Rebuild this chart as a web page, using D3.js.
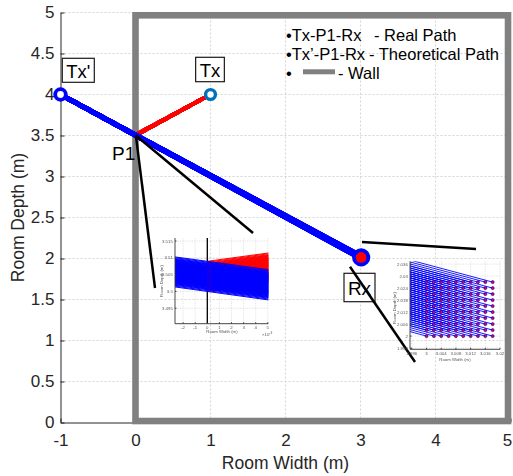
<!DOCTYPE html>
<html>
<head>
<meta charset="utf-8">
<script src="https://cdn.jsdelivr.net/npm/d3@7"></script>
<style>
  body { margin: 0; background: #fff; }
  svg { display: block; }
  text { font-family: "Liberation Sans", Arial, Helvetica, sans-serif; }
</style>
</head>
<body>
<svg id="chart" width="513" height="476"></svg>
<script>
// ---------- data ----------
const xTicks = [-1, 0, 1, 2, 3, 4, 5];
const yTicks = [0, 0.5, 1, 1.5, 2, 2.5, 3, 3.5, 4, 4.5, 5];
const yTickLabels = ["0", "0.5", "1", "1.5", "2", "2.5", "3", "3.5", "4", "4.5", "5"];

const txPoint = [1, 4];        // transmitter
const txImage = [-1, 4];       // mirrored transmitter Tx'
const rxGridX = [3.000, 3.002, 3.004, 3.006, 3.008, 3.010, 3.012, 3.014, 3.016, 3.018];
const rxGridY = [2.000, 2.003, 2.006, 2.009, 2.012, 2.015, 2.018, 2.021, 2.024, 2.027];
const wallX = [0, 4.967];
const wallY = [0.018, 4.966];

// pointer lines from the reflection point and the receiver to the zoomed views
const pointerLines = [
  [[0.005, 3.5], [0.26, 1.64]],
  [[0.005, 3.5], [1.567, 2.311]],
  [[3.02, 2.201], [4.54, 2.116]],
  [[2.86, 1.90], [3.727, 0.738]]
];

// zoom near P1
const zoomP1XTicks = [-0.002, -0.001, 0, 0.001, 0.002, 0.003, 0.004, 0.005];
const zoomP1XLabels = ["-2", "-1", "0", "1", "2", "3", "4", "5"];
const zoomP1YTicks = [3.495, 3.5, 3.505, 3.51, 3.515];
const zoomP1YLabels = ["3.495", "3.5", "3.505", "3.51", "3.515"];
// zoom near Rx
const zoomRxXTicks = [2.996, 3, 3.004, 3.008, 3.012, 3.016, 3.02];
const zoomRxXLabels = ["2.996", "3", "3.004", "3.008", "3.012", "3.016", "3.02"];
const zoomRxYTicks = [1.994, 2, 2.006, 2.012, 2.018, 2.024, 2.03, 2.036];
const zoomRxYLabels = ["1.994", "2", "2.006", "2.012", "2.018", "2.024", "2.03", "2.036"];

// ---------- derived geometry ----------
const rxPoints = rxGridX.flatMap(gx => rxGridY.map(gy => ({ x: gx, y: gy })));
// reflection point on the wall x = 0 for every receiver position
rxPoints.forEach(p => {
  p.p1y = txImage[1] + (p.y - txImage[1]) * (0 - txImage[0]) / (p.x - txImage[0]);
});
const rxCenter = [d3.mean(rxGridX), d3.mean(rxGridY)];

// ---------- layout ----------
const svg = d3.select("#chart");
const FONT = "\"Liberation Sans\", Arial, Helvetica, sans-serif";
const x = d3.scaleLinear().domain([-1, 5]).range([60.5, 510.5]);
const y = d3.scaleLinear().domain([0, 5]).range([422.5, 12.5]);
const ink = "#262626";

const defs = svg.append("defs");
defs.append("filter").attr("id", "soft")
  .attr("x", "-5%").attr("y", "-5%").attr("width", "110%").attr("height", "110%")
  .append("feGaussianBlur").attr("stdDeviation", 0.35);

// grid
const grid = svg.append("g").attr("stroke", "#d4d4d4").attr("stroke-width", 1)
  .attr("stroke-dasharray", "2,2");
grid.selectAll("line.v").data(xTicks.slice(1)).join("line")
  .attr("x1", d => x(d)).attr("x2", d => x(d)).attr("y1", y(0)).attr("y2", y(5));
grid.selectAll("line.h").data(yTicks.slice(1)).join("line")
  .attr("x1", x(-1)).attr("x2", x(5)).attr("y1", d => y(d)).attr("y2", d => y(d));

// axes
const gxAxis = svg.append("g").attr("transform", `translate(0,${y(0)})`)
  .call(d3.axisBottom(x).tickValues(xTicks).tickSize(-4).tickSizeOuter(0)
    .tickPadding(11.5).tickFormat(d => String(d)));
const gyAxis = svg.append("g").attr("transform", `translate(${x(-1)},0)`)
  .call(d3.axisLeft(y).tickValues(yTicks).tickSize(-4).tickSizeOuter(0)
    .tickPadding(6).tickFormat((d, i) => yTickLabels[i]));
[gxAxis, gyAxis].forEach(g => {
  g.select(".domain").attr("stroke", ink);
  g.selectAll(".tick line").attr("stroke", ink);
  g.selectAll(".tick text").attr("fill", ink).attr("font-size", 17).attr("font-family", FONT);
});
// keep the last x label inside the page edge
gxAxis.selectAll(".tick text").filter(d => d === xTicks[xTicks.length - 1]).attr("dx", -3.5);

svg.append("text").attr("x", 285.5).attr("y", 468.5).attr("text-anchor", "middle")
  .attr("font-size", 17.5).attr("fill", ink).text("Room Width (m)");
svg.append("text").attr("transform", `translate(24,217.5) rotate(-90)`)
  .attr("text-anchor", "middle").attr("font-size", 17.5).attr("fill", ink).text("Room Depth (m)");

// wall
svg.append("rect")
  .attr("x", x(wallX[0])).attr("y", y(wallY[1]))
  .attr("width", x(wallX[1]) - x(wallX[0])).attr("height", y(wallY[0]) - y(wallY[1]))
  .attr("fill", "none").attr("stroke", "#808080").attr("stroke-width", 6.6);

// real path Tx -> P1 (red) and theoretical path Tx' -> P1 -> Rx (blue)
svg.append("g").selectAll("line").data(rxPoints).join("line")
  .attr("x1", x(txPoint[0])).attr("y1", y(txPoint[1]))
  .attr("x2", x(0)).attr("y2", d => y(d.p1y))
  .attr("stroke", "#ff0000").attr("stroke-width", 3.6);
svg.append("g").selectAll("line").data(rxPoints).join("line")
  .attr("x1", x(txImage[0])).attr("y1", y(txImage[1]))
  .attr("x2", d => x(d.x)).attr("y2", d => y(d.y))
  .attr("stroke", "#0000ff").attr("stroke-width", 4.6);

// markers
svg.append("circle").attr("cx", x(txImage[0])).attr("cy", y(txImage[1])).attr("r", 5.3)
  .attr("fill", "#fff").attr("stroke", "#0000ff").attr("stroke-width", 3.8);
svg.append("circle").attr("cx", x(txPoint[0])).attr("cy", y(txPoint[1])).attr("r", 4.9)
  .attr("fill", "#fff").attr("stroke", "#0072bd").attr("stroke-width", 3.4);
svg.append("circle").attr("cx", x(rxCenter[0])).attr("cy", y(rxCenter[1])).attr("r", 7.2)
  .attr("fill", "#ff0000").attr("stroke", "#0000ff").attr("stroke-width", 3.8);

// boxed labels
function boxLabel(cx, cy, w, h, txt, size, baseShift) {
  svg.append("rect").attr("x", cx - w / 2).attr("y", cy - h / 2).attr("width", w).attr("height", h)
    .attr("fill", "#fff").attr("stroke", "#1a1a1a").attr("stroke-width", 1.2);
  svg.append("text").attr("x", cx).attr("y", cy + baseShift).attr("text-anchor", "middle")
    .attr("font-size", size).attr("fill", "#000").text(txt);
}
boxLabel(78.3, 70.3, 32, 24, "Tx'", 18.5, 7.2);
boxLabel(210, 69.5, 28.7, 24.4, "Tx", 18.5, 7.2);
boxLabel(359.5, 287.5, 31, 28.4, "Rx", 19, 7.5);
svg.append("text").attr("x", 112).attr("y", 160).attr("font-size", 19).attr("fill", "#000").text("P1");

// pointer lines
svg.append("g").selectAll("line").data(pointerLines).join("line")
  .attr("x1", d => x(d[0][0])).attr("y1", d => y(d[0][1]))
  .attr("x2", d => x(d[1][0])).attr("y2", d => y(d[1][1]))
  .attr("stroke", "#000").attr("stroke-width", 2.5);

// legend
const leg = svg.append("g").attr("font-size", 16.5).attr("fill", "#000");
leg.append("text").attr("x", 286).attr("y", 40.7).text("•Tx-P1-Rx");
leg.append("text").attr("x", 374).attr("y", 40.7).text("- Real Path");
leg.append("text").attr("x", 286).attr("y", 59.6).text("•Tx’-P1-Rx");
leg.append("text").attr("x", 369).attr("y", 59.6).text("- Theoretical Path");
leg.append("text").attr("x", 286).attr("y", 79.3).text("•");
leg.append("rect").attr("x", 303).attr("y", 69.3).attr("width", 32).attr("height", 5).attr("fill", "#808080");
leg.append("text").attr("x", 338).attr("y", 79.3).text("- Wall");

// ---------- zoomed views ----------
function zoomView(id, box, xd, yd, opts) {
  const zx = d3.scaleLinear().domain(xd).range([box.x0, box.x1]);
  const zy = d3.scaleLinear().domain(yd).range([box.y1, box.y0]);
  defs.append("clipPath").attr("id", id).append("rect")
    .attr("x", box.x0).attr("y", box.y0).attr("width", box.x1 - box.x0).attr("height", box.y1 - box.y0);
  const g = svg.append("g").attr("filter", "url(#soft)");
  const gg = g.append("g").attr("stroke", "#cfcfcf").attr("stroke-width", 0.6).attr("stroke-dasharray", "1.2,1.2");
  gg.selectAll("line.v").data(opts.xTicks).join("line")
    .attr("x1", d => zx(d)).attr("x2", d => zx(d)).attr("y1", box.y0).attr("y2", box.y1);
  gg.selectAll("line.h").data(opts.yTicks).join("line")
    .attr("x1", box.x0).attr("x2", box.x1).attr("y1", d => zy(d)).attr("y2", d => zy(d));
  const plot = g.append("g").attr("clip-path", `url(#${id})`);
  opts.draw(plot, zx, zy);
  // axes
  const ax = g.append("g").attr("stroke", "#333").attr("stroke-width", 0.9);
  ax.append("line").attr("x1", box.x0).attr("x2", box.x0).attr("y1", box.y0).attr("y2", box.y1);
  ax.append("line").attr("x1", box.x0).attr("x2", box.x1).attr("y1", box.y1).attr("y2", box.y1);
  ax.selectAll("line.tx").data(opts.xTicks).join("line")
    .attr("x1", d => zx(d)).attr("x2", d => zx(d)).attr("y1", box.y1).attr("y2", box.y1 - 1.5);
  ax.selectAll("line.ty").data(opts.yTicks).join("line")
    .attr("x1", box.x0).attr("x2", box.x0 + 1.5).attr("y1", d => zy(d)).attr("y2", d => zy(d));
  const lab = g.append("g").attr("fill", "#555").attr("font-size", 4.3);
  lab.selectAll("text.x").data(opts.xTicks).join("text")
    .attr("x", d => zx(d)).attr("y", box.y1 + 5.2).attr("text-anchor", "middle")
    .text((d, i) => opts.xLabels[i]);
  lab.selectAll("text.y").data(opts.yTicks).join("text")
    .attr("x", box.x0 - 2.2).attr("y", d => zy(d) + 1.5).attr("text-anchor", "end")
    .text((d, i) => opts.yLabels[i]);
  lab.append("text").attr("x", opts.xLabelPos[0]).attr("y", opts.xLabelPos[1])
    .attr("text-anchor", "middle").text("Room Width (m)");
  lab.append("text").attr("transform", `translate(${opts.yLabelPos[0]},${opts.yLabelPos[1]}) rotate(-90)`)
    .attr("text-anchor", "middle").text("Room Depth (m)");
  if (opts.extra) opts.extra(lab);
}

zoomView("clipP1", { x0: 175, x1: 268.3, y0: 238, y1: 323.7 },
  [-0.00267, 0.00504], [3.4904, 3.5159], {
    xTicks: zoomP1XTicks, xLabels: zoomP1XLabels,
    yTicks: zoomP1YTicks, yLabels: zoomP1YLabels,
    xLabelPos: [222, 332.5], yLabelPos: [163, 281],
    draw(p, zx, zy) {
      p.append("line").attr("x1", zx(0)).attr("x2", zx(0)).attr("y1", zy(3.4904)).attr("y2", zy(3.5159))
        .attr("stroke", "#000").attr("stroke-width", 1.3);
      p.append("g").selectAll("line").data(rxPoints).join("line")
        .attr("x1", zx(0)).attr("y1", d => zy(d.p1y))
        .attr("x2", zx(txPoint[0])).attr("y2", zy(txPoint[1]))
        .attr("stroke", "#ff0000").attr("stroke-width", 1);
      p.append("g").selectAll("line").data(rxPoints).join("line")
        .attr("x1", zx(txImage[0])).attr("y1", zy(txImage[1]))
        .attr("x2", d => zx(d.x)).attr("y2", d => zy(d.y))
        .attr("stroke", "#0000ff").attr("stroke-width", 1);
      // reflected rays leaving the wall, just after the bounce
      p.append("g").selectAll("line").data(rxPoints).join("line")
        .attr("x1", zx(0)).attr("y1", d => zy(d.p1y))
        .attr("x2", zx(0.0004)).attr("y2", d => zy(d.p1y + 0.0004 * (txPoint[1] - d.p1y)))
        .attr("stroke", "#ff0000").attr("stroke-width", 0.5).attr("stroke-opacity", 0.04);
    },
    extra(lab) {
      const t = lab.append("text").attr("x", 262).attr("y", 336);
      t.append("tspan").text("×10");
      t.append("tspan").attr("dy", -1.6).attr("font-size", 3.3).text("-3");
    }
  });

zoomView("clipRx", { x0: 410, x1: 500, y0: 261.3, y1: 349.3 },
  [2.9955, 3.02], [1.9934, 2.0374], {
    xTicks: zoomRxXTicks, xLabels: zoomRxXLabels,
    yTicks: zoomRxYTicks, yLabels: zoomRxYLabels,
    xLabelPos: [455, 360.5], yLabelPos: [396, 308],
    draw(p, zx, zy) {
      p.append("g").selectAll("line").data(rxPoints).join("line")
        .attr("x1", zx(txImage[0])).attr("y1", zy(txImage[1]))
        .attr("x2", d => zx(d.x)).attr("y2", d => zy(d.y))
        .attr("stroke", "#0000ff").attr("stroke-width", 0.9);
      p.append("g").selectAll("circle").data(rxPoints).join("circle")
        .attr("cx", d => zx(d.x)).attr("cy", d => zy(d.y)).attr("r", 1.5)
        .attr("fill", "#ff0000").attr("stroke", "#0000ff").attr("stroke-width", 0.7);
    }
  });
</script>
</body>
</html>
